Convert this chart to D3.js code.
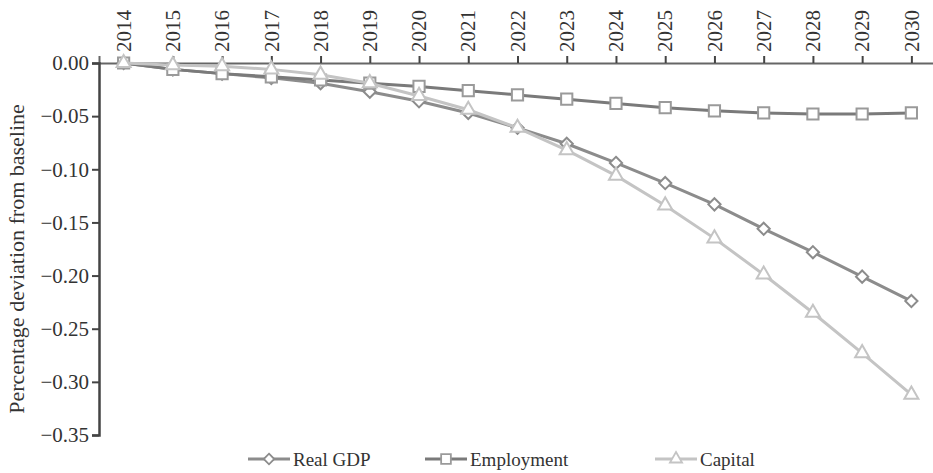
<!DOCTYPE html>
<html><head><meta charset="utf-8">
<script src="https://cdn.jsdelivr.net/npm/d3@7"></script>
<style>body{margin:0;background:#fff}svg{display:block}text{font-family:"Liberation Serif","Times New Roman",serif;fill:#333}</style>
</head><body><svg id="c" width="933" height="473"></svg>
<script>
const years = [2014,2015,2016,2017,2018,2019,2020,2021,2022,2023,2024,2025,2026,2027,2028,2029,2030];
const realGDP = [0,-0.006,-0.010,-0.014,-0.019,-0.027,-0.036,-0.047,-0.061,-0.076,-0.094,-0.113,-0.133,-0.156,-0.178,-0.201,-0.224];
const employment = [0,-0.006,-0.010,-0.013,-0.016,-0.019,-0.022,-0.026,-0.030,-0.034,-0.038,-0.042,-0.045,-0.047,-0.048,-0.048,-0.047];
const capital = [0,-0.002,-0.003,-0.006,-0.011,-0.019,-0.031,-0.044,-0.061,-0.082,-0.106,-0.134,-0.165,-0.199,-0.235,-0.273,-0.312];
const yTicks = [0,-0.05,-0.10,-0.15,-0.20,-0.25,-0.30,-0.35];
const seriesNames = ["Real GDP","Employment","Capital"];

const FONT = '"Liberation Serif","Times New Roman",serif';
const svg = d3.select("#c");
const mL = 99, mR = 936, mT = 63, mB = 435;
const x = d3.scalePoint().domain(years).range([mL, mR]).padding(0.5);
const y = d3.scaleLinear().domain([-0.35, 0]).range([mB, mT]);

const series = [
  {name: seriesNames[0], values: realGDP, line: "#8c8c8c", mk: "#8c8c8c", sym: d3.symbolDiamond2, size: 95},
  {name: seriesNames[1], values: employment, line: "#7a7a7a", mk: "#9a9a9a", sym: d3.symbolSquare2, size: 160},
  {name: seriesNames[2], values: capital, line: "#c4c4c4", mk: "#c4c4c4", sym: d3.symbolTriangle2, size: 140}
];

// top x axis
const gx = svg.append("g").attr("transform", `translate(0,${mT})`)
  .call(d3.axisTop(x).tickSize(7).tickPadding(4));
gx.attr("font-family", FONT);
gx.select(".domain").attr("stroke", "#666").attr("stroke-width", 2);
gx.selectAll(".tick line").attr("stroke", "#444").attr("stroke-width", 2);
gx.selectAll(".tick text").attr("font-size", 21).attr("fill", "#333").attr("font-family", FONT)
  .attr("transform", "rotate(-90)").attr("text-anchor", "start")
  .attr("x", 11).attr("y", 0).attr("dy", "0.32em");

// left y axis
const gy = svg.append("g").attr("transform", `translate(${mL},0)`)
  .call(d3.axisLeft(y).tickValues(yTicks).tickSize(7).tickPadding(3)
    .tickFormat(d => d === 0 ? "0.00" : "\u2212" + d3.format(".2f")(-d)));
gy.attr("font-family", FONT);
gy.select(".domain").attr("stroke", "#444").attr("stroke-width", 2.5);
gy.selectAll(".tick line").attr("stroke", "#444").attr("stroke-width", 2);
gy.selectAll(".tick text").attr("font-size", 21).attr("fill", "#333").attr("font-family", FONT);

// y label
svg.append("text").attr("transform", `translate(24,${(mT+mB)/2+10}) rotate(-90)`)
  .attr("text-anchor", "middle").attr("font-size", 22).attr("font-family", FONT)
  .text("Percentage deviation from baseline");

const line = d3.line().x((d,i) => x(years[i])).y(d => y(d));
series.forEach(s => {
  const g = svg.append("g");
  g.append("path").attr("d", line(s.values)).attr("fill", "none")
    .attr("stroke", s.line).attr("stroke-width", 3);
  g.selectAll("path.m").data(s.values).join("path").attr("class", "m")
    .attr("d", d3.symbol(s.sym, s.size))
    .attr("transform", (d,i) => `translate(${x(years[i])},${y(d)})`)
    .attr("fill", "#fff").attr("stroke", s.mk).attr("stroke-width", 2);
});

// legend
const legX = [248, 425, 655];
series.forEach((s, i) => {
  const g = svg.append("g").attr("transform", `translate(${legX[i]},459)`);
  g.append("line").attr("x1", 0).attr("x2", 42).attr("stroke", s.line).attr("stroke-width", 3);
  g.append("path").attr("d", d3.symbol(s.sym, s.size*0.75)).attr("transform", "translate(21,0)")
    .attr("fill", "#fff").attr("stroke", s.mk).attr("stroke-width", 1.8);
  g.append("text").attr("x", 45).attr("dy", "0.35em").attr("font-size", 19).attr("font-family", FONT).text(s.name);
});
</script></body></html>
